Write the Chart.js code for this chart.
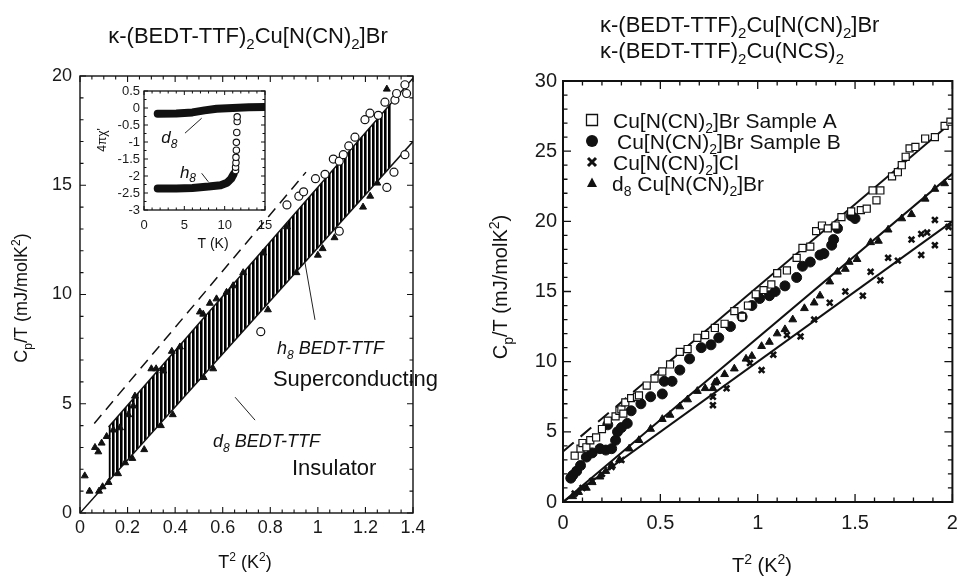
<!DOCTYPE html>
<html>
<head>
<meta charset="utf-8">
<script src="https://cdn.jsdelivr.net/npm/chart.js@4.4.0/dist/chart.umd.min.js"></script>
<style>
html, body { margin: 0; padding: 0; background: #fff; }
#wrap { position: relative; width: 959px; height: 576px; overflow: hidden; background: #fff; }
canvas { position: absolute; }
</style>
</head>
<body>
<div id="wrap">
  <canvas id="leftChart" width="480" height="576" style="left:0;top:0"></canvas>
  <canvas id="insetChart" width="185" height="175" style="left:90px;top:78px"></canvas>
  <canvas id="rightChart" width="479" height="576" style="left:480px;top:0"></canvas>
</div>
<script>
// ---------- left panel : h8 vs d8 BEDT-TTF ----------
const leftXTicks = [0, 0.2, 0.4, 0.6, 0.8, 1, 1.2, 1.4];
const leftYTicks = [0, 5, 10, 15, 20];

const leftTriX = [0.02,0.04,0.063,0.077,0.091,0.112,0.14,0.168,0.203,0.224,0.231,0.30,0.32,0.35,0.386,0.42,0.504,0.518,0.546,0.574,0.616,0.644,0.686,0.77,0.87,1.29,
                  0.08,0.095,0.12,0.16,0.19,0.22,0.27,0.34,0.39,0.52,0.56,0.79,0.91,1.0,1.02,1.07,1.19,1.22,1.25];
const leftTriY = [1.7,1.0,3.0,2.8,3.2,3.5,3.8,3.9,4.5,4.9,5.35,6.6,6.6,6.5,7.4,7.6,9.2,9.1,9.6,9.8,10.1,10.4,11.0,11.9,13.1,19.4,
                  1.0,1.2,1.4,1.8,2.3,2.5,2.9,4.0,4.5,6.2,6.6,9.3,11.0,11.8,12.1,12.6,14.0,14.5,15.1];

const leftCircX = [0.76,0.87,0.92,0.94,0.99,1.03,1.065,1.09,1.107,1.13,1.156,1.198,1.219,1.254,1.282,1.324,1.331,1.366,1.373,
                   1.09,1.29,1.32,1.366];
const leftCircY = [8.3,14.1,14.5,14.7,15.3,15.5,16.2,16.1,16.4,16.8,17.2,18.0,18.3,18.2,18.8,18.9,19.2,19.6,19.2,
                   12.9,14.9,15.6,16.4];

const hatchX      = [0.12, 1.31];
const hatchTop    = [3.94, 18.8];
const hatchBottom = [1.46, 15.9];
const upperFitX = [0.12, 1.4],  upperFitY = [3.94, 19.9];
const lowerFitX = [0, 1.4],     lowerFitY = [0, 17.0];
const dashFitX  = [0.06, 0.95], dashFitY  = [4.1, 15.6];

// ---------- inset : 4 pi chi' vs T ----------
const insetXTicks = [0, 5, 10, 15];
const insetYTicks = [-3, -2.5, -2, -1.5, -1, -0.5, 0, 0.5];
const d8BandT = [1.7, 4, 6, 7.5, 9, 11, 13, 15.1];
const d8BandV = [-0.17, -0.16, -0.13, -0.07, -0.02, 0.0, 0.02, 0.03];
const h8BandT = [1.7, 4, 6, 8, 9.5, 10.3, 10.8, 11.1];
const h8BandV = [-2.37, -2.37, -2.35, -2.31, -2.27, -2.2, -2.08, -1.95];
const h8CircT = [11.35, 11.35, 11.4, 11.4, 11.45, 11.45, 11.5, 11.55, 11.55];
const h8CircV = [-1.84, -1.74, -1.61, -1.45, -1.24, -1.01, -0.72, -0.40, -0.26];

// ---------- right panel : Br / Cl / d8 ----------
const rightXTicks = [0, 0.5, 1, 1.5, 2];
const rightYTicks = [0, 5, 10, 15, 20, 25, 30];

const sampleAX = [0.06,0.09,0.1,0.12,0.14,0.17,0.2,0.23,0.27,0.29,0.3,0.31,0.32,0.35,0.38,0.39,0.43,0.47,0.51,0.55,0.6,0.64,0.69,0.73,0.78,0.83,0.88,0.92,0.95,0.99,
                  1.03,1.07,1.1,1.15,1.2,1.23,1.27,1.3,1.33,1.36,1.4,1.43,1.48,1.53,1.56,1.59,1.61,1.63,1.69,1.72,1.74,1.76,1.78,1.81,1.86,1.91,1.96,1.99];
const sampleAY = [3.3,3.8,4.2,3.9,4.4,4.6,5.2,5.8,6.1,6.5,6.6,6.3,7.1,7.4,7.5,7.6,8.3,8.8,9.3,9.8,10.7,10.9,11.7,11.9,12.4,12.7,13.6,13.2,14.0,14.8,
                  15.1,15.5,16.3,16.5,17.4,18.1,18.2,19.3,19.7,19.5,19.7,20.3,20.7,20.8,20.9,22.2,21.5,22.2,23.2,23.5,24.0,24.6,25.2,25.3,25.9,26.0,26.8,27.1];

const sampleBX = [0.04,0.05,0.07,0.09,0.12,0.15,0.19,0.22,0.25,0.27,0.28,0.3,0.23,0.33,0.35,0.4,0.45,0.51,0.52,0.56,0.6,0.65,0.71,0.76,0.8,0.86,0.92,0.97,
                  1.01,1.06,1.09,1.14,1.2,1.23,1.27,1.32,1.34,1.38,1.39,1.41,1.48,1.5];
const sampleBY = [1.7,1.9,2.2,2.6,3.2,3.5,3.8,3.7,3.8,4.4,5.0,5.3,5.5,5.6,6.5,7.0,7.5,7.7,8.6,8.6,9.4,10.2,11.0,11.2,11.7,12.5,13.2,14.0,
                  14.5,14.7,15.0,15.4,16.0,16.8,17.1,17.6,17.7,18.3,18.7,19.5,20.4,20.2];

const clX = [0.06,0.1,0.15,0.2,0.25,0.3,0.77,0.77,0.84,0.96,1.02,1.08,1.15,1.22,1.29,1.37,1.45,1.54,1.58,1.63,1.67,1.72,1.79,1.84,1.84,1.87,1.91,1.91,1.98];
const clY = [0.6,1.0,1.5,2.0,2.5,3.0,6.9,7.5,8.1,9.9,9.4,10.5,11.9,11.8,13.0,14.2,15.0,14.7,16.4,15.8,17.4,17.2,18.7,17.6,19.1,19.2,18.3,20.1,19.6];

const d8X = [0.05,0.08,0.12,0.15,0.19,0.22,0.25,0.29,0.34,0.39,0.45,0.51,0.55,0.6,0.64,0.69,0.73,0.77,0.78,0.79,0.83,0.88,0.94,0.97,
             1.02,1.06,1.1,1.14,1.18,1.24,1.29,1.32,1.37,1.41,1.45,1.47,1.51,1.58,1.62,1.67,1.74,1.79,1.86,1.91,1.96];
const d8Y = [0.4,0.7,1.0,1.4,1.8,2.2,2.6,3.0,3.8,4.4,5.2,5.9,6.2,6.8,7.3,7.9,8.1,8.1,8.5,8.6,9.1,9.5,10.2,10.4,
             11.1,11.4,12.0,12.3,13.0,13.8,14.2,14.7,15.7,16.4,16.6,17.1,17.3,18.5,18.6,19.4,20.2,20.5,21.6,22.3,22.7];

const rightDashX = [0, 0.75],  rightDashY = [3.6, 12.4];
const rightUpX   = [0.75, 2],  rightUpY   = [12.4, 27.1];
const rightMidX  = [0, 2],     rightMidY  = [0, 23.4];
const rightLowX  = [0, 2],     rightLowY  = [0, 20.0];

// ==========================================
// helpers
// ==========================================
const FAMILY = '"Liberation Sans", Arial, Helvetica, sans-serif';
Chart.defaults.font.family = FAMILY;
Chart.defaults.color = '#1a1a1a';

const pts = (xs, ys) => xs.map((x, i) => ({ x, y: ys[i] }));

// parts: strings, or [text, 'sub'|'sup']
function drawRich(ctx, parts, x, y, size, o = {}) {
  const font = s => `${o.italic ? 'italic ' : ''}${s}px ${FAMILY}`;
  let w = 0;
  const segs = parts.map(p => {
    const t = typeof p === 'string' ? p : p[0];
    const k = typeof p === 'string' ? '' : p[1];
    const s = k ? Math.round(size * 0.68) : size;
    ctx.font = font(s);
    const m = ctx.measureText(t).width;
    w += m;
    return { t, k, s, m };
  });
  ctx.save();
  ctx.translate(x, y);
  if (o.rotate) ctx.rotate(o.rotate);
  let cx = o.align === 'center' ? -w / 2 : (o.align === 'right' ? -w : 0);
  ctx.textAlign = 'left';
  ctx.textBaseline = 'alphabetic';
  ctx.fillStyle = '#111';
  segs.forEach(g => {
    ctx.font = font(g.s);
    const dy = g.k === 'sub' ? size * 0.28 : (g.k === 'sup' ? -size * 0.38 : 0);
    ctx.fillText(g.t, cx, dy);
    cx += g.m;
  });
  ctx.restore();
}

function drawMarker(ctx, style, x, y, r) {
  ctx.save();
  ctx.fillStyle = '#111';
  ctx.strokeStyle = '#111';
  ctx.beginPath();
  if (style === 'rect') {
    ctx.lineWidth = 1.3;
    ctx.fillStyle = '#fff';
    ctx.rect(x - r, y - r, 2 * r, 2 * r);
    ctx.fill(); ctx.stroke();
  } else if (style === 'circle') {
    ctx.arc(x, y, r, 0, Math.PI * 2);
    ctx.fill();
  } else if (style === 'crossRot') {
    ctx.lineWidth = 3;
    ctx.moveTo(x - r, y - r); ctx.lineTo(x + r, y + r);
    ctx.moveTo(x + r, y - r); ctx.lineTo(x - r, y + r);
    ctx.stroke();
  } else {
    ctx.moveTo(x, y - r * 1.1);
    ctx.lineTo(x + r, y + r * 0.8);
    ctx.lineTo(x - r, y + r * 0.8);
    ctx.closePath();
    ctx.fill();
  }
  ctx.restore();
}

// frame with inward ticks on all four sides
function makeFrame(cfg) {
  return {
    id: 'frame',
    afterDatasetsDraw(chart) {
      const { ctx, chartArea: a, scales: { x, y } } = chart;
      ctx.save();
      ctx.strokeStyle = '#111';
      ctx.lineWidth = cfg.lw;
      ctx.strokeRect(a.left, a.top, a.right - a.left, a.bottom - a.top);
      ctx.lineWidth = cfg.tw;
      ctx.beginPath();
      const isMajor = (v, step) => Math.abs(v / step - Math.round(v / step)) < 1e-6;
      const nx = Math.round((x.max - x.min) / cfg.xMinor);
      for (let i = 0; i <= nx; i++) {
        const v = x.min + i * cfg.xMinor;
        const L = isMajor(v, cfg.xMajor) ? cfg.majorLen : cfg.minorLen;
        const px = x.getPixelForValue(v);
        ctx.moveTo(px, a.bottom); ctx.lineTo(px, a.bottom - L);
        ctx.moveTo(px, a.top);    ctx.lineTo(px, a.top + L);
      }
      const ny = Math.round((y.max - y.min) / cfg.yMinor);
      for (let i = 0; i <= ny; i++) {
        const v = y.min + i * cfg.yMinor;
        const L = isMajor(v, cfg.yMajor) ? cfg.majorLen : cfg.minorLen;
        const py = y.getPixelForValue(v);
        ctx.moveTo(a.left, py);  ctx.lineTo(a.left + L, py);
        ctx.moveTo(a.right, py); ctx.lineTo(a.right - L, py);
      }
      ctx.stroke();
      ctx.restore();
    }
  };
}

// texts, pointer lines and legend
function makeTexts(cfg) {
  return {
    id: 'texts',
    afterDraw(chart) {
      const ctx = chart.ctx, sx = chart.scales.x, sy = chart.scales.y;
      (cfg.lines || []).forEach(l => {
        ctx.save();
        ctx.strokeStyle = '#222';
        ctx.lineWidth = 1;
        ctx.beginPath();
        ctx.moveTo(sx.getPixelForValue(l[0]), sy.getPixelForValue(l[1]));
        ctx.lineTo(sx.getPixelForValue(l[2]), sy.getPixelForValue(l[3]));
        ctx.stroke();
        ctx.restore();
      });
      (cfg.items || []).forEach(it => {
        const x = it.data ? sx.getPixelForValue(it.x) : it.x;
        const y = it.data ? sy.getPixelForValue(it.y) : it.y;
        drawRich(ctx, it.parts, x, y, it.size, it);
      });
      (cfg.legend || []).forEach(lg => {
        drawMarker(ctx, lg.style, lg.mx, lg.y, lg.r);
        drawRich(ctx, lg.parts, lg.tx, lg.y + 7.5, lg.size);
      });
    }
  };
}

function axis(min, max, ticks, fmt, size, pad, fit) {
  return {
    type: 'linear', min, max,
    grid: { display: false, drawTicks: false },
    border: { display: false },
    ticks: { font: { size }, color: '#1a1a1a', padding: pad, autoSkip: false, maxRotation: 0, callback: fmt },
    afterBuildTicks: s => { s.ticks = ticks.map(v => ({ value: v })); },
    afterFit: fit
  };
}
const fmtNum = v => String(Math.round(v * 100) / 100);

// hatch pattern (vertical stripes)
const pc = document.createElement('canvas');
pc.width = 4; pc.height = 4;
const pctx = pc.getContext('2d');
pctx.fillStyle = '#000';
pctx.fillRect(0, 0, 2.6, 4);
const hatch = pctx.createPattern(pc, 'repeat');

const lineDs = (data, extra) => Object.assign({
  data, showLine: true, pointRadius: 0, borderColor: '#111', borderWidth: 1.5,
  tension: 0, fill: false, order: 1
}, extra);

// ==========================================
// LEFT CHART
// ==========================================
new Chart(document.getElementById('leftChart'), {
  type: 'line',
  data: {
    datasets: [
      lineDs(pts(hatchX, hatchTop), { borderWidth: 0, borderColor: 'rgba(0,0,0,0)', fill: '+1', backgroundColor: hatch, order: 3 }),
      lineDs(pts(hatchX, hatchBottom), { borderWidth: 0, borderColor: 'rgba(0,0,0,0)', order: 3 }),
      lineDs(pts(upperFitX, upperFitY)),
      lineDs(pts(lowerFitX, lowerFitY)),
      lineDs(pts(dashFitX, dashFitY), { borderDash: [11, 7] }),
      { data: pts(leftTriX, leftTriY), showLine: false, pointStyle: 'triangle', pointRadius: 4,
        backgroundColor: '#111', borderColor: '#111', borderWidth: 1, order: 0 },
      { data: pts(leftCircX, leftCircY), showLine: false, pointStyle: 'circle', pointRadius: 4,
        backgroundColor: '#fff', borderColor: '#111', borderWidth: 1.2, order: 0 }
    ]
  },
  options: {
    responsive: false, animation: false, devicePixelRatio: 1,
    layout: { padding: { left: 0, top: 76, right: 67, bottom: 0 } },
    plugins: { legend: { display: false }, tooltip: { enabled: false } },
    scales: {
      x: axis(0, 1.4, leftXTicks, fmtNum, 18, 4, s => { s.height = 63; s.paddingLeft = 0; s.paddingRight = 0; }),
      y: axis(0, 20, leftYTicks, fmtNum, 18, 8, s => { s.width = 80; s.paddingTop = 0; s.paddingBottom = 0; })
    }
  },
  plugins: [
    makeFrame({ lw: 1.4, tw: 1.1, xMinor: 0.05, xMajor: 0.2, yMinor: 1, yMajor: 5, majorLen: 6, minorLen: 3.5 }),
    makeTexts({
      lines: [[0.946, 11.45, 0.988, 8.84], [0.652, 5.3, 0.736, 4.25]],
      items: [
        { parts: ['κ-(BEDT-TTF)', ['2', 'sub'], 'Cu[N(CN)', ['2', 'sub'], ']Br'], x: 248, y: 43, size: 22, align: 'center' },
        { parts: ['C', ['p', 'sub'], '/T (mJ/molK', ['2', 'sup'], ')'], x: 27, y: 298, size: 18, align: 'center', rotate: -Math.PI / 2 },
        { parts: ['T', ['2', 'sup'], ' (K', ['2', 'sup'], ')'], x: 245, y: 568, size: 18, align: 'center' },
        { parts: ['h', ['8', 'sub'], ' BEDT-TTF'], data: true, x: 0.828, y: 7.26, size: 18, italic: true },
        { parts: ['Superconducting'], data: true, x: 0.811, y: 5.81, size: 22 },
        { parts: ['d', ['8', 'sub'], ' BEDT-TTF'], data: true, x: 0.559, y: 3.04, size: 18, italic: true },
        { parts: ['Insulator'], data: true, x: 0.891, y: 1.73, size: 22 }
      ]
    })
  ]
});

// ==========================================
// INSET
// ==========================================
new Chart(document.getElementById('insetChart'), {
  type: 'line',
  data: {
    datasets: [
      lineDs(pts(d8BandT, d8BandV), { borderWidth: 8, borderCapStyle: 'round', borderJoinStyle: 'round' }),
      lineDs(pts(h8BandT, h8BandV), { borderWidth: 8, borderCapStyle: 'round', borderJoinStyle: 'round' }),
      { data: pts(h8CircT, h8CircV), showLine: false, pointStyle: 'circle', pointRadius: 3.2,
        backgroundColor: '#fff', borderColor: '#111', borderWidth: 1.1, order: 0 }
    ]
  },
  options: {
    responsive: false, animation: false, devicePixelRatio: 1,
    layout: { padding: { left: 0, top: 13, right: 10, bottom: 0 } },
    plugins: { legend: { display: false }, tooltip: { enabled: false } },
    scales: {
      x: axis(0, 15, insetXTicks, fmtNum, 13, 8, s => { s.height = 43; s.paddingLeft = 0; s.paddingRight = 0; }),
      y: axis(-3, 0.5, insetYTicks, fmtNum, 13, 4, s => { s.width = 54; s.paddingTop = 0; s.paddingBottom = 0; })
    }
  },
  plugins: [
    makeFrame({ lw: 1.3, tw: 1, xMinor: 1, xMajor: 5, yMinor: 0.25, yMajor: 0.5, majorLen: 4, minorLen: 2.5 }),
    makeTexts({
      lines: [[5.08, -0.74, 7.15, -0.30], [7.15, -1.92, 7.97, -2.17]],
      items: [
        { parts: ['d', ['8', 'sub']], data: true, x: 3.13, y: -1.03, size: 17, italic: true, align: 'center' },
        { parts: ['h', ['8', 'sub']], data: true, x: 5.45, y: -2.05, size: 17, italic: true, align: 'center' },
        { parts: ['T (K)'], x: 123, y: 170, size: 14, align: 'center' },
        { parts: ["4πχ'"], x: 16, y: 62, size: 12, align: 'center', rotate: -Math.PI / 2 }
      ]
    })
  ]
});

// ==========================================
// RIGHT CHART
// ==========================================
new Chart(document.getElementById('rightChart'), {
  type: 'line',
  data: {
    datasets: [
      lineDs(pts(rightDashX, rightDashY), { borderWidth: 2, borderDash: [14, 9] }),
      lineDs(pts(rightUpX, rightUpY), { borderWidth: 2 }),
      lineDs(pts(rightMidX, rightMidY), { borderWidth: 2 }),
      lineDs(pts(rightLowX, rightLowY), { borderWidth: 2 }),
      { data: pts(sampleAX, sampleAY), showLine: false, pointStyle: 'rect', pointRadius: 5,
        backgroundColor: '#fff', borderColor: '#111', borderWidth: 1.2, order: 0 },
      { data: pts(sampleBX, sampleBY), showLine: false, pointStyle: 'circle', pointRadius: 5,
        backgroundColor: '#111', borderColor: '#111', borderWidth: 1, order: 0 },
      { data: pts(clX, clY), showLine: false, pointStyle: 'crossRot', pointRadius: 4,
        backgroundColor: '#111', borderColor: '#111', borderWidth: 2.6, order: 0 },
      { data: pts(d8X, d8Y), showLine: false, pointStyle: 'triangle', pointRadius: 4.5,
        backgroundColor: '#111', borderColor: '#111', borderWidth: 1, order: 0 }
    ]
  },
  options: {
    responsive: false, animation: false, devicePixelRatio: 1,
    layout: { padding: { left: 0, top: 81, right: 4, bottom: 0 } },
    plugins: { legend: { display: false }, tooltip: { enabled: false } },
    scales: {
      x: axis(0, 2, rightXTicks, fmtNum, 20, 9, s => { s.height = 74; s.paddingLeft = 0; s.paddingRight = 0; }),
      y: axis(0, 30, rightYTicks, fmtNum, 20, 6, s => { s.width = 83; s.paddingTop = 0; s.paddingBottom = 0; })
    }
  },
  plugins: [
    makeFrame({ lw: 2, tw: 1.3, xMinor: 0.1, xMajor: 0.5, yMinor: 1, yMajor: 5, majorLen: 8, minorLen: 4.5 }),
    makeTexts({
      items: [
        { parts: ['κ-(BEDT-TTF)', ['2', 'sub'], 'Cu[N(CN)', ['2', 'sub'], ']Br'], x: 120, y: 32, size: 22 },
        { parts: ['κ-(BEDT-TTF)', ['2', 'sub'], 'Cu(NCS)', ['2', 'sub']], x: 120, y: 58, size: 22 },
        { parts: ['C', ['p', 'sub'], '/T (mJ/molK', ['2', 'sup'], ')'], x: 27, y: 287, size: 20, align: 'center', rotate: -Math.PI / 2 },
        { parts: ['T', ['2', 'sup'], ' (K', ['2', 'sup'], ')'], x: 282, y: 572, size: 20, align: 'center' }
      ],
      legend: [
        { style: 'rect', r: 5.5, mx: 112, tx: 133, y: 120, size: 21, parts: ['Cu[N(CN)', ['2', 'sub'], ']Br Sample A'] },
        { style: 'circle', r: 6, mx: 112, tx: 137, y: 141, size: 21, parts: ['Cu[N(CN)', ['2', 'sub'], ']Br Sample B'] },
        { style: 'crossRot', r: 4, mx: 112, tx: 133, y: 162, size: 21, parts: ['Cu[N(CN)', ['2', 'sub'], ']Cl'] },
        { style: 'triangle', r: 5, mx: 112, tx: 132, y: 183, size: 21, parts: ['d', ['8', 'sub'], ' Cu[N(CN)', ['2', 'sub'], ']Br'] }
      ]
    })
  ]
});
</script>
</body>
</html>
